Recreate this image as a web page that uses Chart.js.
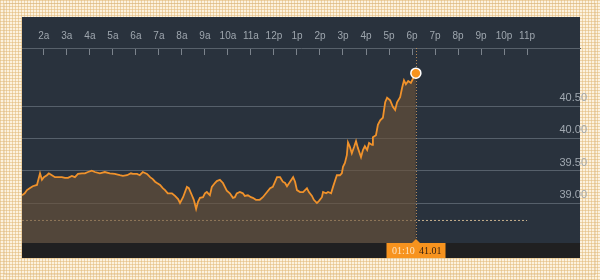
<!DOCTYPE html>
<html>
<head>
<meta charset="utf-8">
<script src="https://cdn.jsdelivr.net/npm/chart.js@4.4.1/dist/chart.umd.min.js"></script>
<style>
  html, body { margin: 0; padding: 0; }
  body {
    width: 600px; height: 280px; overflow: hidden; position: relative;
    background-color: #fcf2df;
    background-image:
      repeating-linear-gradient(0deg, rgba(226,186,122,0.55) 0 1px, transparent 1px 3px),
      repeating-linear-gradient(90deg, rgba(226,186,122,0.55) 0 1px, transparent 1px 3px);
  }
  .frame { position: absolute; left: 4px; top: 3px; width: 592px; height: 272px;
           border: 1px solid rgba(205,175,125,0.35); box-sizing: border-box; }
  canvas { position: absolute; left: 0; top: 0; }
</style>
</head>
<body>
<div class="frame"></div>
<canvas id="priceChart" width="600" height="280"></canvas>
<script>
// hour ticks along the top (minutes since midnight) and their labels
var hourTicks = [120, 180, 240, 300, 360, 420, 480, 540, 600, 660, 720,
                 780, 840, 900, 960, 1020, 1080, 1140, 1200, 1260, 1320, 1380];
var hourLabels = ["2a", "3a", "4a", "5a", "6a", "7a", "8a", "9a", "10a", "11a", "12p",
                  "1p", "2p", "3p", "4p", "5p", "6p", "7p", "8p", "9p", "10p", "11p"];

// price gridlines on the right
var yTicks = [39.00, 39.50, 40.00, 40.50];

// intraday series: time (minutes since midnight) and price
var times = [
  63, 70, 76, 83, 91, 102, 110, 115, 120, 128,
  133, 141, 149, 157, 167, 175, 183, 193, 201, 209,
  219, 227, 235, 245, 253, 266, 279, 292, 305, 318,
  326, 337, 347, 352, 363, 370, 378, 389, 397, 404,
  410, 415, 423, 430, 436, 443, 454, 462, 470, 475,
  483, 493, 498, 506, 511, 517, 522, 527, 535, 540,
  545, 553, 558, 566, 571, 579, 587, 592, 597, 605,
  613, 618, 623, 631, 639, 644, 652, 660, 665, 673,
  683, 691, 702, 710, 717, 723, 728, 736, 743, 749,
  754, 762, 770, 775, 780, 788, 796, 806, 811, 819,
  824, 832, 837, 845, 848, 856, 861, 869, 874, 879,
  884, 892, 897, 900, 905, 910, 913, 918, 923, 929,
  934, 939, 947, 952, 957, 963, 968, 976, 978, 986,
  991, 997, 1004, 1010, 1015, 1023, 1030, 1036, 1041, 1049,
  1054, 1059, 1064, 1070, 1077, 1082, 1090
];
var prices = [
  39.12, 39.15, 39.20, 39.23, 39.26, 39.28, 39.46, 39.36, 39.40, 39.43,
  39.46, 39.43, 39.40, 39.40, 39.40, 39.39, 39.39, 39.42, 39.40, 39.45,
  39.46, 39.46, 39.48, 39.50, 39.48, 39.46, 39.48, 39.46, 39.45, 39.43,
  39.42, 39.43, 39.46, 39.45, 39.45, 39.43, 39.48, 39.45, 39.40, 39.37,
  39.33, 39.31, 39.28, 39.23, 39.20, 39.15, 39.15, 39.11, 39.06, 39.00,
  39.09, 39.25, 39.23, 39.12, 39.05, 38.91, 39.02, 39.08, 39.09, 39.15,
  39.17, 39.12, 39.25, 39.31, 39.34, 39.36, 39.31, 39.25, 39.19, 39.15,
  39.08, 39.09, 39.15, 39.17, 39.15, 39.11, 39.12, 39.09, 39.08, 39.05,
  39.05, 39.09, 39.17, 39.23, 39.25, 39.33, 39.40, 39.40, 39.33, 39.31,
  39.26, 39.33, 39.40, 39.33, 39.20, 39.17, 39.17, 39.23, 39.17, 39.11,
  39.05, 39.00, 39.03, 39.09, 39.17, 39.15, 39.17, 39.15, 39.25, 39.34,
  39.43, 39.43, 39.46, 39.56, 39.62, 39.74, 39.94, 39.87, 39.77, 39.87,
  39.96, 39.85, 39.71, 39.82, 39.88, 39.82, 39.93, 39.90, 40.02, 40.05,
  40.21, 40.28, 40.32, 40.56, 40.63, 40.59, 40.49, 40.44, 40.56, 40.64,
  40.78, 40.90, 40.84, 40.89, 40.86, 40.92, 41.01
];

// previous close, drawn dotted up to 11p
var prevClose = 38.73;
var prevCloseTimes = [63, 1380];
var lastTime = "01:10";

var last = prices.length - 1;
var pricePoints = times.map(function (t, i) { return { x: t, y: prices[i] }; });
var closePoints = prevCloseTimes.map(function (t) { return { x: t, y: prevClose }; });

// panel background, bottom strip, cursor line and value badge
var panelPlugin = {
  id: 'panel',
  beforeDraw: function (chart) {
    var ctx = chart.ctx, a = chart.chartArea, top = chart.scales.x.top;
    ctx.save();
    ctx.fillStyle = '#29323d';
    ctx.fillRect(a.left, top, a.right - a.left, a.bottom - top);
    ctx.fillStyle = '#202021';
    ctx.fillRect(a.left, a.bottom, a.right - a.left, 15);
    ctx.restore();
  },
  beforeDatasetsDraw: function (chart) {
    var ctx = chart.ctx, a = chart.chartArea;
    var px = Math.round(chart.scales.x.getPixelForValue(times[last])) + 0.5;
    ctx.save();
    ctx.strokeStyle = 'rgba(205,150,90,0.85)';
    ctx.lineWidth = 1;
    ctx.setLineDash([1, 2]);
    ctx.beginPath();
    ctx.moveTo(px, a.top);
    ctx.lineTo(px, a.bottom);
    ctx.stroke();
    ctx.restore();
  },
  afterDraw: function (chart) {
    var ctx = chart.ctx, a = chart.chartArea;
    var px = Math.round(chart.scales.x.getPixelForValue(times[last]));
    var w = 59, h = 15, top = a.bottom;
    ctx.save();
    ctx.fillStyle = '#f7931e';
    ctx.fillRect(px - w / 2, top, w, h);
    ctx.beginPath();
    ctx.moveTo(px - 4, top);
    ctx.lineTo(px, top - 4);
    ctx.lineTo(px + 4, top);
    ctx.closePath();
    ctx.fill();
    ctx.font = '10px "Liberation Serif"';
    ctx.textBaseline = 'middle';
    ctx.textAlign = 'left';
    ctx.fillStyle = '#fde4c2';
    ctx.fillText(lastTime, px - 24, top + 8);
    ctx.fillStyle = '#3a2412';
    ctx.fillText(prices[last].toFixed(2), px + 3, top + 8);
    ctx.restore();
  }
};

var ctx = document.getElementById('priceChart');

var chartData = {
  datasets: [{
    label: 'Price',
    data: pricePoints,
    borderColor: '#f0922b',
    borderWidth: 1.8,
    backgroundColor: 'rgba(108,82,56,0.62)',
    fill: 'start',
    tension: 0,
    pointRadius: prices.map(function (p, i) { return i === last ? 5 : 0; }),
    pointBackgroundColor: '#f7931e',
    pointBorderColor: '#ffffff',
    pointBorderWidth: 1.5,
    order: 1
  }, {
    label: 'Previous close',
    data: closePoints,
    borderColor: 'rgba(215,190,150,0.9)',
    borderWidth: 1,
    borderDash: [2, 2],
    pointRadius: 0,
    fill: false,
    order: 2
  }]
};

var config = {
  type: 'line',
  data: chartData,
  plugins: [panelPlugin],
  options: {
    responsive: false,
    animation: false,
    devicePixelRatio: 1,
    layout: { padding: { left: 22, right: 6, top: 17, bottom: 37 } },
    plugins: { legend: { display: false }, tooltip: { enabled: false } },
    scales: {
      x: {
        type: 'linear',
        position: 'top',
        min: 63,
        max: 1518,
        afterBuildTicks: function (scale) {
          scale.ticks = hourTicks.map(function (v) { return { value: v }; });
        },
        ticks: {
          autoSkip: false,
          maxRotation: 0,
          padding: 13,
          color: '#9ea6ae',
          font: { family: '"Liberation Sans", Arial, sans-serif', size: 10 },
          callback: function (v) { return hourLabels[hourTicks.indexOf(v)]; }
        },
        grid: {
          drawOnChartArea: false,
          drawTicks: true,
          tickLength: -7,
          tickColor: '#7b838c',
          tickWidth: 1
        },
        border: { display: true, color: '#58616b', width: 1 }
      },
      y: {
        position: 'right',
        min: 38.381,
        max: 41.40,
        afterBuildTicks: function (scale) {
          scale.ticks = yTicks.map(function (v) { return { value: v }; });
        },
        ticks: {
          mirror: true,
          padding: 7,
          labelOffset: -8,
          color: '#a0a8b0',
          font: { family: '"Liberation Sans", Arial, sans-serif', size: 11 },
          callback: function (v) { return v.toFixed(2); }
        },
        grid: { color: '#56606b', lineWidth: 1, drawTicks: false },
        border: { display: false }
      }
    }
  }
};

var priceChart = new Chart(ctx, config);
</script>
</body>
</html>
